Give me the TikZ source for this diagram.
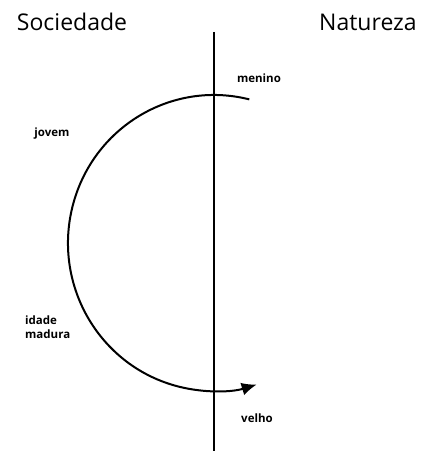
\documentclass[tikz,border=0pt]{standalone}
\usepackage{fontspec}
\setmainfont{Open Sans}
\usetikzlibrary{arrows.meta,calc}

\begin{document}
\begin{tikzpicture}[
  x=1pt, y=1pt, >=Latex,
  side/.style={font=\fontsize{23}{27}\selectfont},
  stage/.style={font=\fontsize{11.5}{14}\selectfont\bfseries, align=left, inner sep=0pt},
  axisline/.style={line width=2pt},
  cycle/.style={line width=2pt, -{Latex[length=15pt,width=13pt]}},
]
\useasboundingbox (0,0) rectangle (428,451);
% the two sides
\node[side] (soc) at (72,429) {Sociedade};
\node[side] (nat) at (368,429) {Natureza};
% dividing line
\coordinate (top) at (214,419);
\coordinate (bot) at (214,0);
\draw[axisline] (top) -- (bot);
% life cycle
\coordinate (ini) at ($(214,208)+(76:146 and 148)$);
\draw[cycle] (ini) arc[start angle=76, end angle=287, x radius=146, y radius=148];
% stages
\node[stage] (men) at (259,373) {menino};
\node[stage] (jov) at (52,317) {jovem};
\node[stage, anchor=west] (mad) at (25,124) {idade\\madura};
\node[stage] (vel) at (257,33) {velho};
\end{tikzpicture}
\end{document}
